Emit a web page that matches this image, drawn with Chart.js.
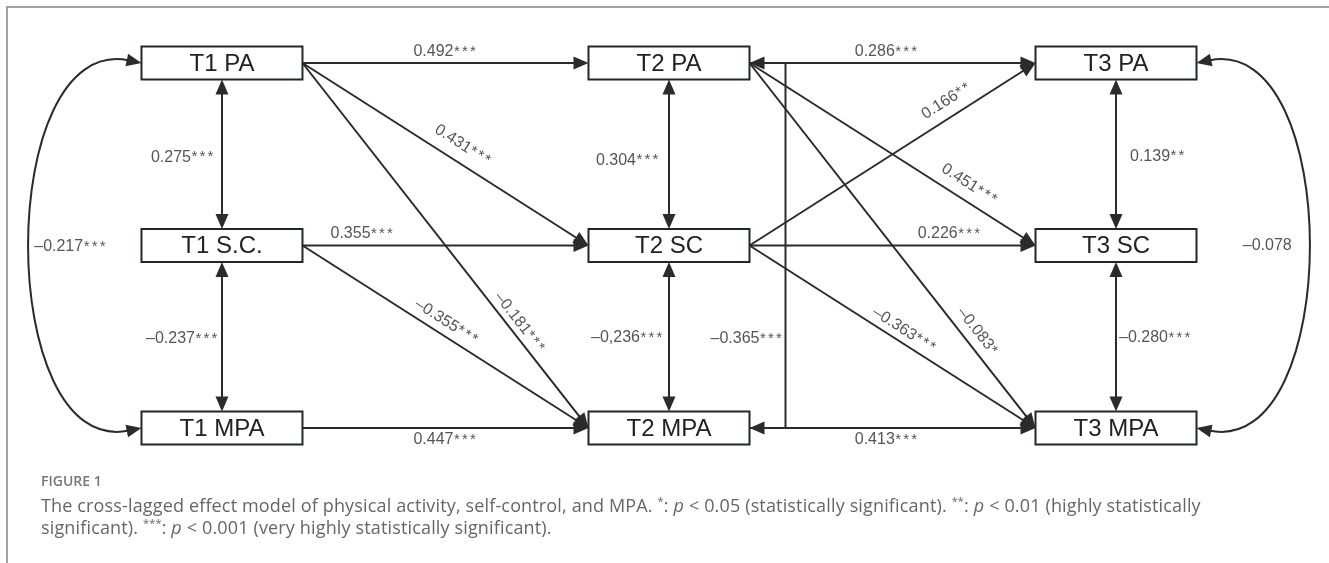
<!DOCTYPE html>
<html>
<head>
<meta charset="utf-8">
<script src="https://cdn.jsdelivr.net/npm/chart.js@4.4.1/dist/chart.umd.min.js"></script>
<style>
  body { margin: 0; background: #fff; width: 1329px; height: 563px; overflow: hidden; position: relative; }
  #frame { position: absolute; left: 6px; top: 6px; right: -2px; bottom: -2px; border-top: 2px solid #a0a0a0; border-left: 2px solid #a0a0a0; }
  #diagram { position: absolute; left: 0; top: 0; }
  #figno { position: absolute; left: 41px; top: 474px; font: 600 14px/14px "Open Sans", sans-serif; color: #777; }
  #caption { position: absolute; left: 41px; top: 494px; font: 18px/22px "Open Sans", sans-serif; color: #666; white-space: nowrap; letter-spacing: 0.15px; }
  #caption sup { font-size: 11px; vertical-align: 7px; line-height: 0; }
</style>
</head>
<body>
<div id="frame"></div>
<canvas id="diagram" width="1329" height="563"></canvas>
<div id="figno">FIGURE 1</div>
<div id="caption">The cross-lagged effect model of physical activity, self-control, and MPA. <sup>*</sup>: <i>p</i> &lt; 0.05 (statistically significant). <sup>**</sup>: <i>p</i> &lt; 0.01 (highly statistically<br>significant). <sup>***</sup>: <i>p</i> &lt; 0.001 (very highly statistically significant).</div>
<script>
// measured variables: wave (T1..T3) and construct row (PA, SC, MPA)
const nodeLabels = ['T1 PA', 'T1 S.C.', 'T1 MPA', 'T2 PA', 'T2 SC', 'T2 MPA', 'T3 PA', 'T3 SC', 'T3 MPA'];
const nodeWave = [1, 1, 1, 2, 2, 2, 3, 3, 3];
const nodeRow = [0, 1, 2, 0, 1, 2, 0, 1, 2];

// autoregressive and cross-lagged paths
const pathFrom = ['T1 PA', 'T1 PA', 'T1 PA', 'T1 S.C.', 'T1 S.C.', 'T1 MPA', 'T2 PA', 'T2 PA', 'T2 PA', 'T2 SC', 'T2 SC', 'T2 SC', 'T2 MPA'];
const pathTo = ['T2 PA', 'T2 SC', 'T2 MPA', 'T2 SC', 'T2 MPA', 'T2 MPA', 'T3 PA', 'T3 SC', 'T3 MPA', 'T3 PA', 'T3 SC', 'T3 MPA', 'T3 MPA'];
const pathCoef = ['0.492***', '0.431***', '–0.181***', '0.355***', '–0.355***', '0.447***', '0.286***', '0.451***', '–0.083*', '0.166**', '0.226***', '–0.363***', '0.413***'];

// within-wave correlations
const covA = ['T1 PA', 'T1 S.C.', 'T1 PA', 'T2 PA', 'T2 SC', 'T2 PA', 'T3 PA', 'T3 SC', 'T3 PA'];
const covB = ['T1 S.C.', 'T1 MPA', 'T1 MPA', 'T2 SC', 'T2 MPA', 'T2 MPA', 'T3 SC', 'T3 MPA', 'T3 MPA'];
const covCoef = ['0.275***', '–0.237***', '–0.217***', '0.304***', '–0,236***', '–0.365***', '0.139**', '–0.280***', '–0.078'];

// label placement: [fraction along the line, offset from it]
const pathLabelAt = [[0.5, 11], [0.53, 17], [0.73, 11], [0.21, 12], [0.48, 13], [0.5, -12],
                     [0.48, 11], [0.74, 16], [0.76, 14], [0.72, 16], [0.70, 12], [0.52, 12], [0.48, -12]];
// covariance shape and label [dx, dy, align]
const covShape = ['v', 'v', 'left', 'v', 'v', 'bracket', 'v', 'v', 'right'];
const covLabelAt = [[-7, 3, 'right'], [-3, 2, 'right'], [3, 1, 'left'], [-9, 6, 'right'], [-5, 1, 'right'],
                    [-2, 93, 'right'], [14, 2, 'left'], [3, 1, 'left'], [-15, 0, 'right']];

const boxW = 161, boxH = 33;
const headLen = 15, headHalf = 6.5;
const ink = '#2b2b2b';

function arrowHead(ctx, x, y, ang) {
    ctx.save();
    ctx.translate(x, y);
    ctx.rotate(ang);
    ctx.beginPath();
    ctx.moveTo(0, 0);
    ctx.lineTo(-headLen, -headHalf);
    ctx.lineTo(-headLen, headHalf);
    ctx.closePath();
    ctx.fillStyle = ink;
    ctx.fill();
    ctx.restore();
}

// coefficient text: number, then small raised stars
function label(ctx, text, x, y, ang, align) {
    const k = text.indexOf('*');
    const num = k < 0 ? text : text.slice(0, k);
    const stars = k < 0 ? 0 : text.length - k;
    const step = 8;
    ctx.save();
    ctx.translate(x, y);
    ctx.rotate(ang || 0);
    ctx.fillStyle = '#555';
    ctx.textBaseline = 'middle';
    ctx.textAlign = 'left';
    ctx.font = '16px "Liberation Sans", Arial, sans-serif';
    const wNum = ctx.measureText(num).width;
    const w = wNum + stars * step;
    const x0 = align === 'right' ? -w : align === 'left' ? 0 : -w / 2;
    ctx.fillText(num, x0, 0);
    ctx.font = '15px "Liberation Sans", Arial, sans-serif';
    for (let j = 0; j < stars; j++) ctx.fillText('*', x0 + wNum + 0.5 + j * step, 0);
    ctx.restore();
}

const pathDiagram = {
    id: 'pathDiagram',
    afterDatasetsDraw(chart) {
        const ctx = chart.ctx;
        const xs = chart.scales.x, ys = chart.scales.y;
        const at = name => {
            const i = nodeLabels.indexOf(name);
            return { x: xs.getPixelForValue(nodeWave[i]), y: ys.getPixelForValue(nodeRow[i]) };
        };
        ctx.save();
        ctx.strokeStyle = ink;
        ctx.lineWidth = 2;

        // regression paths
        pathFrom.forEach((f, i) => {
            const a = at(f), b = at(pathTo[i]);
            const sx = a.x + boxW / 2, sy = a.y;
            const ex = b.x - boxW / 2, ey = b.y;
            const dx = ex - sx, dy = ey - sy, len = Math.hypot(dx, dy);
            const ang = Math.atan2(dy, dx);
            ctx.beginPath();
            ctx.moveTo(sx, sy);
            ctx.lineTo(ex - dx / len * (headLen - 2), ey - dy / len * (headLen - 2));
            ctx.stroke();
            arrowHead(ctx, ex, ey, ang);
            const [t, off] = pathLabelAt[i];
            const nx = dy / len, ny = -dx / len;
            label(ctx, pathCoef[i], sx + dx * t + nx * off, sy + dy * t + ny * off, ang);
        });

        // correlations
        covA.forEach((n1, i) => {
            const a = at(n1), b = at(covB[i]);
            const [ldx, ldy, align] = covLabelAt[i];
            const shape = covShape[i];
            if (shape === 'v') {
                const y1 = a.y + boxH / 2, y2 = b.y - boxH / 2;
                ctx.beginPath();
                ctx.moveTo(a.x, y1 + headLen - 2);
                ctx.lineTo(a.x, y2 - headLen + 2);
                ctx.stroke();
                arrowHead(ctx, a.x, y1, -Math.PI / 2);
                arrowHead(ctx, a.x, y2, Math.PI / 2);
                label(ctx, covCoef[i], a.x + ldx, (y1 + y2) / 2 + ldy, 0, align);
            } else if (shape === 'bracket') {
                const ex = a.x + boxW / 2, bx = ex + 36;
                ctx.beginPath();
                ctx.moveTo(ex + headLen - 2, a.y);
                ctx.lineTo(bx, a.y);
                ctx.lineTo(bx, b.y);
                ctx.lineTo(ex + headLen - 2, b.y);
                ctx.stroke();
                arrowHead(ctx, ex, a.y, Math.PI);
                arrowHead(ctx, ex, b.y, Math.PI);
                label(ctx, covCoef[i], bx + ldx, (a.y + b.y) / 2 + ldy, 0, align);
            } else {
                const s = shape === 'left' ? -1 : 1;
                const ex = a.x + s * boxW / 2;
                const k = 147, lift = 30;
                const c1x = ex + s * k, c1y = a.y - lift;
                const c2x = ex + s * k, c2y = b.y + lift;
                // arrow tips sit on the box edges, the curve meets their bases
                const ang1 = Math.atan2(a.y - c1y, ex - c1x);
                const ang2 = Math.atan2(b.y - c2y, ex - c2x);
                ctx.beginPath();
                ctx.moveTo(ex - Math.cos(ang1) * (headLen - 2), a.y - Math.sin(ang1) * (headLen - 2));
                ctx.bezierCurveTo(c1x, c1y, c2x, c2y, ex - Math.cos(ang2) * (headLen - 2), b.y - Math.sin(ang2) * (headLen - 2));
                ctx.stroke();
                arrowHead(ctx, ex, a.y, ang1);
                arrowHead(ctx, ex, b.y, ang2);
                const peakX = ex + s * k * 0.75;
                label(ctx, covCoef[i], peakX + ldx, (a.y + b.y) / 2 + ldy, 0, align);
            }
        });

        // variable boxes
        nodeLabels.forEach(name => {
            const p = at(name);
            ctx.fillStyle = '#fff';
            ctx.fillRect(p.x - boxW / 2, p.y - boxH / 2, boxW, boxH);
            ctx.strokeStyle = '#1f2731';
            ctx.lineWidth = 2;
            ctx.strokeRect(p.x - boxW / 2, p.y - boxH / 2, boxW, boxH);
            ctx.font = '24px "Liberation Sans", Arial, sans-serif';
            ctx.fillStyle = '#222';
            ctx.textAlign = 'center';
            ctx.textBaseline = 'middle';
            ctx.fillText(name, p.x, p.y + 1);
        });
        ctx.restore();
    }
};

new Chart(document.getElementById('diagram'), {
    type: 'scatter',
    data: {
        datasets: [{
            data: nodeLabels.map((n, i) => ({ x: nodeWave[i], y: nodeRow[i] })),
            pointRadius: 0
        }]
    },
    options: {
        responsive: false,
        animation: false,
        devicePixelRatio: 1,
        layout: { padding: 0 },
        plugins: { legend: { display: false }, tooltip: { enabled: false } },
        scales: {
            x: { type: 'linear', display: false, min: 0.5034, max: 3.4765 },
            y: { type: 'linear', display: false, reverse: true, min: -0.3452, max: 2.7397 }
        }
    },
    plugins: [pathDiagram]
});
</script>
</body>
</html>
